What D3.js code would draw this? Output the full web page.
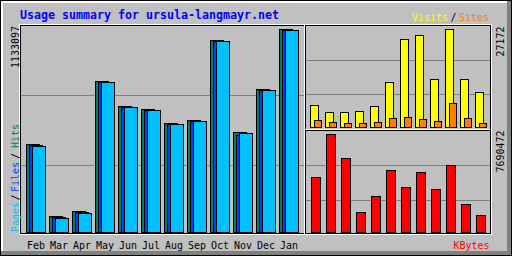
<!DOCTYPE html>
<html>
<head>
<meta charset="utf-8">
<script src="https://cdn.jsdelivr.net/npm/d3@7"></script>
<style>
  html, body { margin: 0; padding: 0; background: #c0c0c0; }
  svg { display: block; }
  text { font-family: "DejaVu Sans Mono", "Liberation Mono", monospace; }
</style>
</head>
<body>
<div id="chart"></div>
<script>
// data
const months = ["Feb", "Mar", "Apr", "May", "Jun", "Jul", "Aug", "Sep", "Oct", "Nov", "Dec", "Jan"];
const hits   = [491200, 89300, 117200, 842900, 703300, 686500, 608400, 625100, 1071700, 558200, 798200, 1133097];
const files  = [485600, 83700, 111600, 837300, 697700, 681000, 602800, 619600, 1066100, 544000, 792600, 1127500];
const pages  = [482800, 78100, 108800, 835000, 696000, 679000, 601000, 618000, 1064000, 555000, 791000, 1126000];
const visits = [6100, 4080, 4080, 4440, 5740, 12480, 24320, 25510, 13310, 27172, 13230, 9700];
const sites  = [1940, 1390, 1110, 1110, 1390, 2500, 2770, 2220, 1660, 6650, 2500, 1110];
const kbytes = [4316000, 7690472, 5807000, 1569000, 2825000, 4865000, 3531000, 4708000, 3374000, 5258000, 2197000, 1334000];

const title = "Usage summary for ursula-langmayr.net";

//colors
const grey = "#c0c0c0", dkgrey = "#808080", white = "#ffffff", black = "#000000";
const hitColor = "#00805c", fileColor = "#0040ff", pageColor = "#00c0ff";
const visitColor = "#ffff00", siteColor = "#ff8000", kbyteColor = "#ff0000";

let w = 512, h = 256;

let svg = d3.select("#chart")
            .append("svg")
            .attr("width", w)
            .attr("height", h);

// 1px wide/high filled rect, used as a pixel line
const px = (x, y, wd, ht, c) => svg.append("rect")
    .attr("x", x).attr("y", y)
    .attr("width", wd).attr("height", ht)
    .attr("fill", c);

px(0, 0, w, h, grey);

//shadow border
px(0, 0, w, 3, white);
px(0, 0, 3, h, white);
px(0, h - 5, w, 5, dkgrey);
px(w - 5, 0, 5, h, dkgrey);
svg.append("rect")
    .attr("x", 0.5).attr("y", 0.5)
    .attr("width", w - 1).attr("height", h - 1)
    .attr("fill", "none").attr("stroke", black);

//graph box: white outer ring, black inner ring
svg.append("rect")
    .attr("x", 19.5).attr("y", 24.5)
    .attr("width", 472).attr("height", 210)
    .attr("fill", "none").attr("stroke", white);
svg.append("rect")
    .attr("x", 20.5).attr("y", 25.5)
    .attr("width", 470).attr("height", 208)
    .attr("fill", "none").attr("stroke", black);

//grid lines, 2 per panel
let gridMain = d3.scaleLinear().domain([0, 3]).range([25, 235]);
let gridTop = d3.scaleLinear().domain([0, 3]).range([25, 130]);
let gridBot = d3.scaleLinear().domain([0, 3]).range([130, 235]);
[1, 2].forEach(i => {
    px(21, Math.floor(gridMain(i)), 283, 1, dkgrey);
    px(306, Math.floor(gridTop(i)), 184, 1, dkgrey);
    px(306, Math.floor(gridBot(i)), 184, 1, dkgrey);
});

//section lines
px(304, 25, 1, 209, white);
px(305, 25, 1, 209, black);
px(305, 129, 185, 1, white);
px(305, 130, 185, 1, black);

//scales
let xMain = d3.scaleBand().domain(months).range([26, 26 + 12 * 23]);
let yMain = d3.scaleLinear().domain([0, d3.max(hits)]).range([232, 29]);
let xSmall = d3.scaleBand().domain(months).range([310, 310 + 12 * 15]);
let yVisits = d3.scaleLinear().domain([0, d3.max(visits)]).range([127, 29]);
let yKb = d3.scaleLinear().domain([0, d3.max(kbytes)]).range([232, 134]);

// draw one series of outlined bars
const drawBars = (values, xs, ys, offset, width, color) => {
    let base = ys.range()[0];
    svg.append("g")
        .selectAll("rect")
        .data(values.map((v, i) => ({ month: months[i], value: v })))
        .enter()
        .append("rect")
        .attr("x", d => xs(d.month) + offset + 0.5)
        .attr("y", d => Math.round(ys(d.value)) + 0.5)
        .attr("width", width)
        .attr("height", d => base - Math.round(ys(d.value)))
        .attr("fill", color)
        .attr("stroke", black)
        .attr("stroke-width", 1);
};

drawBars(hits, xMain, yMain, 0, 13, hitColor);
drawBars(files, xMain, yMain, 3, 13, fileColor);
drawBars(pages, xMain, yMain, 6, 13, pageColor);
drawBars(visits, xSmall, yVisits, 0, 8, visitColor);
drawBars(sites, xSmall, yVisits, 4, 7, siteColor);
drawBars(kbytes, xSmall, yKb, 1, 9, kbyteColor);

//month axis
let xAxis = d3.axisBottom(xMain).tickSize(0);
let ax = svg.append("g")
    .attr("transform", "translate(-1.5, 238)")
    .call(xAxis);
ax.select(".domain").remove();
ax.selectAll("text")
    .attr("y", 11)
    .attr("dy", null)
    .attr("fill", black)
    .attr("font-size", "11px")
    .attr("font-family", "DejaVu Sans Mono")
    .attr("textLength", 18)
    .attr("lengthAdjust", "spacingAndGlyphs");

// text helpers
const label = (txt, x, y, color, len, rot, size) => {
    let t = svg.append("text")
        .attr("transform", `translate(${x}, ${y})` + (rot ? " rotate(-90)" : ""))
        .attr("fill", color)
        .attr("font-size", (size || 11) + "px")
        .text(txt);
    if (len) t.attr("textLength", len).attr("lengthAdjust", "spacingAndGlyphs");
    return t;
};

//title
label(title, 20, 19, "#0000ff", title.length * 7, false, 11.5).attr("font-weight", "bold");

//left axis labels
let maxHitsTxt = String(d3.max(hits));
label(maxHitsTxt, 19, 68, black, maxHitsTxt.length * 6, true);
label("Pages", 19, 232, pageColor, 30, true);
label("/", 19, 200.5, black, 6, true);
label("Files", 19, 192, fileColor, 30, true);
label("/", 19, 159, black, 6, true);
label("Hits", 19, 148, hitColor, 24, true);

//right axis labels
let maxVisitsTxt = String(d3.max(visits));
let maxKbTxt = String(d3.max(kbytes));
label(maxVisitsTxt, 504, 56.5, black, maxVisitsTxt.length * 6, true);
label(maxKbTxt, 504, 172.5, black, maxKbTxt.length * 6, true);

//legends
label("Visits", 412, 21, visitColor, 36);
label("/", 450.5, 21, black, 6);
label("Sites", 459, 21, siteColor, 30);
label("KBytes", 453.5, 248.5, kbyteColor, 36);
</script>
</body>
</html>
